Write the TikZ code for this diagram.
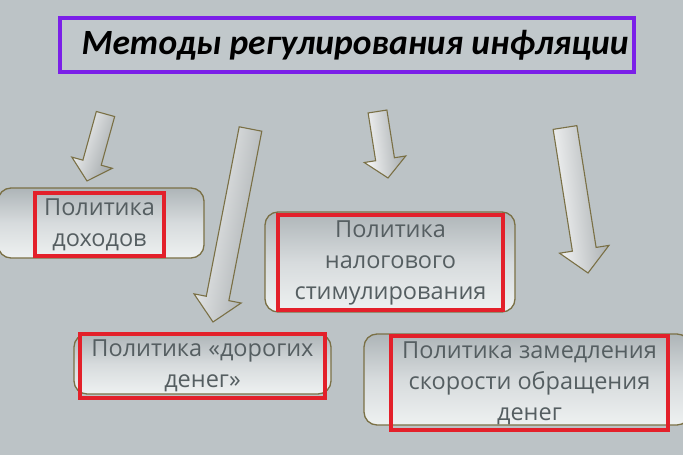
\documentclass[tikz,border=0pt]{standalone}
\usepackage{fontspec}
\setmainfont{Open Sans}
\newfontfamily\titlefont{Carlito}
\usetikzlibrary{calc}
\definecolor{bg}{HTML}{BCC3C6}
\definecolor{olive}{HTML}{7A7045}
\definecolor{redb}{HTML}{E3202A}
\definecolor{purp}{HTML}{7B1FE8}
\definecolor{txt}{HTML}{555E61}
\definecolor{boxtop}{HTML}{AEB5B8}
\definecolor{boxbot}{HTML}{EEF1F1}
\tikzset{
  outerbox/.style={draw=olive, line width=1.3pt, rounded corners=13pt, top color=boxtop, bottom color=boxbot, middle color=bg!60!white, inner sep=0pt},
  redbox/.style={draw=redb, line width=4pt, inner sep=0pt, text=txt, align=center, font=\fontsize{23.5}{31}\selectfont},
  blockarrow/.style={draw=olive, line width=1.1pt, line join=miter, left color=white!92!bg, right color=bg!85!black, shading angle=#1},
  titlebox/.style={draw=purp, line width=4pt, fill=bg!92!white, inner sep=0pt},
  titletext/.style={inner sep=0pt, font=\titlefont\bfseries\itshape\fontsize{35.5}{38}\selectfont}
}
% tail, tip, half shaft, half head, head length, shading angle
\newcommand\barrowdraw[6]{%
  \coordinate (bT) at (#1);
  \coordinate (bP) at (#2);
  \coordinate (bJ) at ($(bP)!#5!(bT)$);
  \draw[blockarrow=#6] ($(bT)!#3!90:(bP)$) -- ($(bJ)!#3!-90:(bT)$) -- ($(bJ)!#4!-90:(bT)$) -- (bP) -- ($(bJ)!#4!90:(bT)$) -- ($(bJ)!#3!90:(bT)$) -- ($(bT)!#3!-90:(bP)$) -- cycle;
}
\begin{document}
\begin{tikzpicture}[x=1pt,y=-1pt]
\useasboundingbox (0,0) rectangle (683,455);
\fill[bg] (0,0) rectangle (683,455);

% title
\node[titlebox, minimum width=574pt, minimum height=54pt] (title) at (347,45) {};
\node[titletext] (titlet) at (355,45) {Методы регулирования инфляции};

% arrows
\coordinate (a1t) at (105.5,114);
\coordinate (a1p) at (87,181);
\barrowdraw{a1t}{a1p}{9.5pt}{21pt}{19pt}{70}
\coordinate (a2t) at (250.5,129);
\coordinate (a2p) at (213,322);
\barrowdraw{a2t}{a2p}{11.5pt}{24pt}{24pt}{80}
\coordinate (a3t) at (377.5,111.5);
\coordinate (a3p) at (388,178);
\barrowdraw{a3t}{a3p}{9.5pt}{21pt}{19pt}{95}
\coordinate (a4t) at (565,127.5);
\coordinate (a4p) at (588,273);
\barrowdraw{a4t}{a4p}{12pt}{25pt}{24pt}{95}

% boxes
\node[outerbox, minimum width=206pt, minimum height=70pt] (b1) at (101,223) {};
\node[redbox, minimum width=129pt, minimum height=63pt] (r1) at (99.5,224.5) {Политика\\доходов};

\node[outerbox, minimum width=250pt, minimum height=100pt] (b2) at (390,262) {};
\node[redbox, minimum width=225pt, minimum height=95pt] (r2) at (390.5,262.5) {Политика\\налогового\\стимулирования};

\node[outerbox, minimum width=257pt, minimum height=60pt] (b3) at (202.5,364) {};
\node[redbox, minimum width=245pt, minimum height=64pt] (r3) at (202.5,366) {Политика «дорогих\\денег»};

\node[outerbox, minimum width=326pt, minimum height=91pt] (b4) at (527,379.5) {};
\node[redbox, minimum width=277pt, minimum height=94pt] (r4) at (529.5,383) {Политика замедления\\скорости обращения\\денег};
\end{tikzpicture}
\end{document}
